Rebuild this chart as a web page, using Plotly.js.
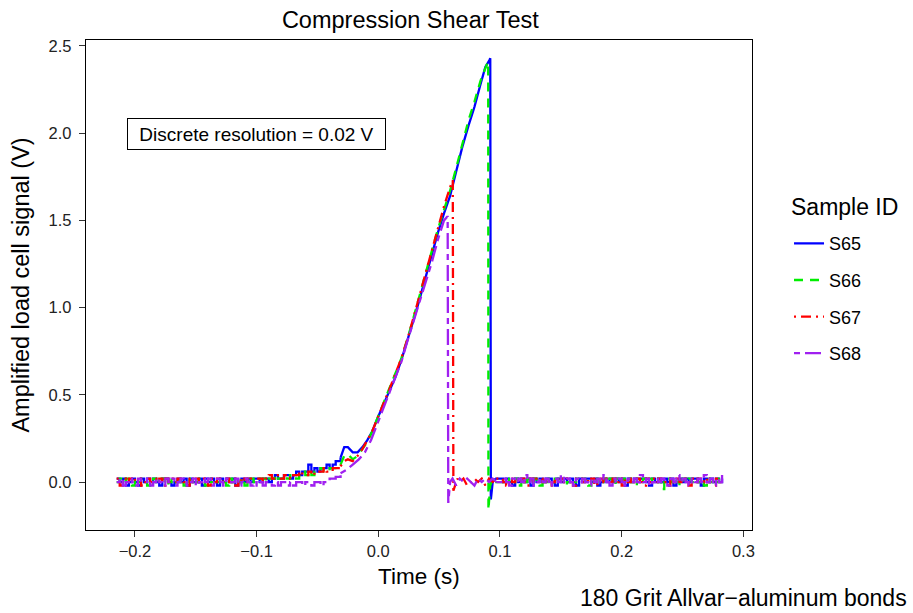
<!DOCTYPE html>
<html>
<head>
<meta charset="utf-8">
<script src="https://cdn.plot.ly/plotly-3.0.1.min.js"></script>
<style>
html,body{margin:0;padding:0;background:#fff;}
#chart{width:913px;height:613px;}
</style>
</head>
<body>
<div id="chart"></div>
<script>
// ---- Data ----
const seriesNames = ["S65", "S66", "S67", "S68"];

// shared pre-load time samples (s)
const tPre = [-0.215,-0.2125,-0.21,-0.2075,-0.205,-0.2025,-0.2,-0.1975,-0.195,-0.1925,-0.19,-0.1875,-0.185,-0.1825,-0.18,-0.1775,-0.175,-0.1725,-0.17,-0.1675,-0.165,-0.1625,-0.16,-0.1575,-0.155,-0.1525,-0.15,-0.1475,-0.145,-0.1425,-0.14,-0.1375,-0.135,-0.1325,-0.13,-0.1275,-0.125,-0.1225,-0.12,-0.1175,-0.115,-0.1125,-0.11,-0.1075,-0.105,-0.1025,-0.1,-0.0975,-0.095,-0.0925,-0.09,-0.0875,-0.085,-0.0825,-0.08,-0.0775,-0.075,-0.0725,-0.07,-0.0675,-0.065,-0.0625,-0.06,-0.0575,-0.055,-0.0525,-0.05,-0.0475,-0.045,-0.0425,-0.04,-0.0375,-0.035];
// shared post-failure time samples (s)
const tPost = [0.1,0.1025,0.105,0.1075,0.11,0.1125,0.115,0.1175,0.12,0.1225,0.125,0.1275,0.13,0.1325,0.135,0.1375,0.14,0.1425,0.145,0.1475,0.15,0.1525,0.155,0.1575,0.16,0.1625,0.165,0.1675,0.17,0.1725,0.175,0.1775,0.18,0.1825,0.185,0.1875,0.19,0.1925,0.195,0.1975,0.2,0.2025,0.205,0.2075,0.21,0.2125,0.215,0.2175,0.22,0.2225,0.225,0.2275,0.23,0.2325,0.235,0.2375,0.24,0.2425,0.245,0.2475,0.25,0.2525,0.255,0.2575,0.26,0.2625,0.265,0.2675,0.27,0.2725,0.275,0.2775,0.28,0.2825];

// S65
const vPre65 = [0.02,0.00,0.02,-0.02,0.00,0.02,0.00,-0.02,0.02,0.00,
  0.02,0.00,0.02,0.00,-0.02,0.02,0.02,0.00,-0.02,0.00,
  0.02,0.00,0.02,-0.02,0.02,0.00,0.00,0.02,-0.02,0.02,
  0.00,0.02,0.00,-0.02,0.02,0.00,0.02,0.00,0.02,-0.02,
  0.00,0.02,0.00,0.02,0.00,0.02,
  0.02,0.00,0.02,0.02,0.00,0.02,0.04,0.02,0.02,0.04,
  0.04,0.02,0.04,0.06,0.04,0.06,0.06,0.10,0.06,0.08,
  0.06,0.08,0.08,0.10,0.08,0.10,0.12];
const tRise65 = [-0.031,-0.028,-0.025,-0.021,-0.017,-0.013,-0.009,-0.005,-0.001,0.004,0.009,0.014,0.019,0.024,0.029,0.034,0.039,0.044,0.049,0.054,0.059,0.064,0.069,0.074,0.079,0.084,0.088,0.0915,0.092,0.0925,0.094,0.096];
const vRise65 = [0.14,0.20,0.20,0.17,0.17,0.20,0.24,0.29,0.36,0.44,0.52,0.60,0.70,0.81,0.93,1.05,1.18,1.31,1.43,1.54,1.64,1.78,1.92,2.04,2.15,2.28,2.38,2.42,2.43,-0.10,0.00,0.02];
const vPost65 = [0.02,0.00,0.02,0.00,-0.02,0.02,0.00,0.02,0.00,0.02,
  -0.02,0.02,0.00,0.02,0.00,0.02,0.02,0.00,-0.02,0.02,
  0.00,0.02,0.00,0.02,0.00,-0.02,0.02,0.00,0.02,0.02,
  0.00,0.02,-0.02,0.00,0.02,0.00,0.02,0.00,0.02,0.00,
  0.02,-0.02,0.02,0.00,0.02,0.00,0.02,0.02,0.00,-0.02,
  0.02,0.00,0.02,0.00,0.02,0.00,0.02,-0.02,0.00,0.02,
  0.00,0.02,0.00,0.02,0.02,0.00,-0.02,0.02,0.00,0.02,
  0.00,0.02,0.00,0.02];

// S66
const vPre66 = [0.00,0.02,0.00,0.02,0.00,-0.02,0.02,0.00,0.02,0.00,
  -0.02,0.00,0.02,0.00,0.02,0.02,-0.02,0.00,0.02,0.00,
  0.00,0.02,-0.02,0.02,0.00,0.02,0.00,0.02,0.00,-0.02,
  0.02,0.00,0.02,0.00,0.02,0.00,-0.02,0.02,0.00,0.02,
  0.00,0.02,-0.02,0.00,0.02,0.00,
  0.00,0.02,0.02,0.00,0.02,0.02,0.04,0.02,0.02,0.04,
  0.02,0.04,0.04,0.02,0.04,0.06,0.04,0.06,0.04,0.06,
  0.06,0.08,0.06,0.06,0.08,0.08,0.08];
const tRise66 = [-0.031,-0.028,-0.025,-0.021,-0.017,-0.013,-0.009,-0.005,-0.001,0.004,0.009,0.014,0.019,0.024,0.029,0.034,0.039,0.044,0.049,0.054,0.059,0.064,0.069,0.074,0.079,0.084,0.0895,0.0903,0.0905,0.092,0.094,0.096];
const vRise66 = [0.10,0.15,0.16,0.13,0.15,0.19,0.23,0.29,0.36,0.44,0.53,0.62,0.71,0.82,0.94,1.07,1.20,1.33,1.45,1.56,1.67,1.80,1.94,2.07,2.18,2.30,2.40,2.41,-0.16,-0.02,0.02,0.00];
const vPost66 = [0.00,0.02,0.00,0.02,0.00,0.02,-0.02,0.02,0.00,0.02,
  0.00,0.02,0.00,-0.02,0.02,0.00,0.02,0.00,0.02,0.00,
  0.02,-0.02,0.00,0.02,0.00,0.02,0.00,0.02,0.00,-0.02,
  0.02,0.00,0.02,0.00,0.02,0.00,0.02,-0.02,0.02,0.00,
  0.02,0.00,0.02,0.00,-0.02,0.02,0.00,0.02,0.00,0.02,
  0.00,0.02,0.00,-0.04,0.00,0.02,0.00,0.02,0.00,-0.02,
  0.02,0.00,0.02,0.00,0.02,0.00,0.02,-0.02,0.02,0.00,
  0.02,0.00,0.02,0.00];

// S67
const vPre67 = [0.02,-0.02,0.02,0.00,0.02,0.00,0.02,0.02,-0.02,0.00,
  0.02,0.00,0.02,0.00,0.02,-0.02,0.02,0.00,0.02,0.00,
  0.02,0.02,0.00,-0.02,0.02,0.00,0.02,0.00,0.02,0.00,
  -0.02,0.02,0.00,0.02,0.00,0.02,0.02,0.00,0.02,-0.02,
  0.02,0.00,0.02,0.00,0.02,0.02,
  0.02,0.02,0.00,0.02,0.04,0.02,0.02,0.04,0.02,0.04,
  0.04,0.02,0.04,0.04,0.06,0.04,0.04,0.06,0.04,0.06,
  0.06,0.06,0.08,0.06,0.06,0.08,0.08];
const tRise67 = [-0.031,-0.028,-0.025,-0.021,-0.017,-0.013,-0.009,-0.005,-0.001,0.004,0.009,0.014,0.019,0.024,0.029,0.034,0.039,0.044,0.049,0.054,0.059,0.0612,0.0617,0.063,0.065,0.067,0.07,0.073,0.076,0.079,0.082,0.085,0.088,0.091,0.094,0.097];
const vRise67 = [0.09,0.12,0.13,0.12,0.15,0.19,0.24,0.29,0.36,0.44,0.53,0.62,0.71,0.82,0.94,1.07,1.20,1.33,1.46,1.58,1.69,1.73,-0.05,-0.02,0.02,0.00,0.02,-0.02,0.00,0.02,0.00,0.02,-0.02,0.02,0.00,0.02];
const vPost67 = [0.02,0.00,-0.02,0.02,0.00,0.02,0.00,0.02,0.00,-0.02,
  0.02,0.00,0.02,0.02,0.00,0.02,-0.02,0.00,0.02,0.00,
  0.02,0.00,0.02,0.00,-0.02,0.02,0.02,0.00,0.02,0.00,
  0.02,-0.02,0.00,0.02,0.00,0.02,0.00,0.02,0.00,0.02,
  -0.02,0.02,0.00,0.02,0.00,0.02,0.00,-0.02,0.02,0.00,
  0.02,0.00,0.02,0.02,0.00,-0.02,0.02,0.00,0.02,0.00,
  0.02,0.00,-0.02,0.02,0.00,0.02,0.00,0.02,0.00,0.02,
  -0.02,0.02,0.00,0.02];

// S68
const vPre68 = [0.00,0.02,-0.02,0.00,0.02,0.00,-0.02,0.02,0.00,0.00,
  0.02,-0.02,0.00,0.02,0.00,-0.02,0.02,0.00,0.02,-0.02,
  0.00,0.02,0.00,-0.02,0.00,0.02,-0.02,0.00,0.02,0.00,
  0.02,-0.02,0.00,0.02,0.00,-0.02,0.02,0.00,0.00,0.02,
  -0.02,0.00,0.02,0.00,-0.02,0.00,
  -0.02,0.00,-0.02,0.00,0.00,-0.02,0.00,-0.02,0.00,0.00,
  -0.02,0.00,-0.02,0.00,0.00,-0.02,0.00,0.00,-0.02,0.00,
  0.00,-0.02,0.00,0.00,0.02,0.02,0.03];
const tRise68 = [-0.031,-0.026,-0.021,-0.016,-0.011,-0.006,-0.001,0.004,0.009,0.014,0.019,0.024,0.029,0.034,0.039,0.044,0.049,0.054,0.0565,0.057,0.0575,0.059,0.061,0.064,0.067,0.07,0.073,0.076,0.079,0.082,0.085,0.088,0.091,0.094,0.097];
const vRise68 = [0.05,0.07,0.10,0.13,0.17,0.24,0.33,0.42,0.50,0.59,0.69,0.81,0.92,1.03,1.14,1.26,1.39,1.50,1.52,1.52,-0.12,0.00,0.02,-0.02,0.02,0.00,0.02,0.00,-0.02,0.02,0.00,0.02,0.00,0.02,0.00];
const vPost68 = [0.00,0.02,0.00,-0.02,0.02,0.00,0.02,0.00,0.04,0.00,
  0.02,-0.02,0.00,0.02,0.00,0.02,-0.02,0.00,0.02,0.00,
  0.04,0.00,0.02,0.00,-0.02,0.02,0.00,0.02,0.00,-0.02,
  0.02,0.00,0.02,0.00,0.04,0.00,-0.02,0.02,0.00,0.02,
  0.00,-0.02,0.02,0.00,0.02,0.00,0.04,0.00,0.02,-0.02,
  0.00,0.02,0.00,0.02,0.00,-0.02,0.02,0.00,0.04,0.00,
  0.02,0.00,-0.02,0.02,0.00,0.02,0.00,0.04,0.00,0.02,
  -0.02,0.02,0.00,0.04];

const xTicks = [-0.2, -0.1, 0.0, 0.1, 0.2, 0.3];
const yTicks = [0.0, 0.5, 1.0, 1.5, 2.0, 2.5];

// ---- Styles ----
const FONT = "Liberation Sans, Arial, Helvetica, sans-serif";
const styles = [
  {color: "#0000FF", dash: "solid"},
  {color: "#00EE00", dash: "9px,7px"},
  {color: "#FF0000", dash: "2px,5px,10px,5px"},
  {color: "#A020F0", dash: "6px,5px,16px,5px"}
];
const LW = 2.3;

const rises = [[tRise65, vRise65], [tRise66, vRise66], [tRise67, vRise67], [tRise68, vRise68]];
const pres = [vPre65, vPre66, vPre67, vPre68];
const posts = [vPost65, vPost66, vPost67, vPost68];

const traces = [];
seriesNames.forEach((name, i) => {
  const tr = rises[i][0], vr = rises[i][1];
  const line = {color: styles[i].color, width: LW, dash: styles[i].dash};
  // quantised noisy baseline before loading (stepped, as sampled)
  traces.push({
    type: "scatter", mode: "lines", name: name, legendgroup: name, showlegend: false,
    x: tPre.concat([tr[0]]), y: pres[i].concat([vr[0]]),
    line: Object.assign({shape: "hv"}, line), hoverinfo: "skip"
  });
  // loading ramp and failure drop
  traces.push({
    type: "scatter", mode: "lines", name: name, legendgroup: name, showlegend: true,
    x: tr, y: vr,
    line: Object.assign({shape: "linear"}, line), hoverinfo: "skip"
  });
  // noisy baseline after failure
  traces.push({
    type: "scatter", mode: "lines", name: name, legendgroup: name, showlegend: false,
    x: [tr[tr.length - 1]].concat(tPost), y: [vr[vr.length - 1]].concat(posts[i]),
    line: Object.assign({shape: "hv"}, line), hoverinfo: "skip"
  });
});

const layout = {
  width: 913,
  height: 613,
  paper_bgcolor: "#fff",
  plot_bgcolor: "#fff",
  font: {family: FONT, color: "#000"},
  margin: {l: 86, r: 161, t: 40, b: 83},
  title: {
    text: "Compression Shear Test",
    font: {family: FONT, size: 23.5, color: "#000"},
    x: 0.487, xref: "paper", xanchor: "center",
    y: 0.967, yref: "container", yanchor: "middle"
  },
  xaxis: {
    range: [-0.2402, 0.3071],
    tickvals: xTicks,
    tickformat: ".1f",
    ticks: "outside", ticklen: 6, tickwidth: 1, tickcolor: "#333",
    showline: true, mirror: true, linecolor: "#000", linewidth: 1.3,
    showgrid: false, zeroline: false,
    tickfont: {family: FONT, size: 16.5, color: "#222"}
  },
  yaxis: {
    range: [-0.275, 2.534],
    tickvals: yTicks,
    tickformat: ".1f",
    ticks: "outside", ticklen: 6, tickwidth: 1, tickcolor: "#333",
    showline: true, mirror: true, linecolor: "#000", linewidth: 1.3,
    showgrid: false, zeroline: false,
    ticklabelstandoff: 4,
    tickfont: {family: FONT, size: 16.5, color: "#222"},
    title: {text: "Amplified load cell signal (V)", font: {family: FONT, size: 23.5, color: "#000"}, standoff: 12}
  },
  legend: {
    x: 1.0556, xanchor: "left",
    y: 0.622, yanchor: "top",
    font: {family: FONT, size: 18, color: "#000"},
    traceorder: "grouped",
    tracegroupgap: 10.2,
    bgcolor: "rgba(0,0,0,0)"
  },
  annotations: [
    {
      text: "Time (s)",
      xref: "paper", yref: "paper", x: 0.5, y: -0.0939,
      xanchor: "center", yanchor: "middle", showarrow: false, borderpad: 0,
      font: {family: FONT, size: 22.5, color: "#000"}
    },
    {
      text: "Sample ID",
      xref: "paper", yref: "paper", x: 1.0556, y: 0.659,
      xanchor: "left", yanchor: "middle", showarrow: false,
      font: {family: FONT, size: 23, color: "#000"}
    },
    {
      text: "Discrete resolution = 0.02 V",
      xref: "x", yref: "y", x: -0.100, y: 1.995,
      showarrow: false,
      font: {family: FONT, size: 19, color: "#000"},
      bordercolor: "#000", borderwidth: 1, borderpad: 4,
      width: 249, height: 22,
      bgcolor: "#fff"
    },
    {
      text: "180 Grit Allvar\u2212aluminum bonds",
      xref: "paper", yref: "paper", x: 1.234, y: -0.1388,
      xanchor: "right", yanchor: "middle",
      showarrow: false, borderpad: 0,
      font: {family: FONT, size: 23, color: "#000"}
    }
  ]
};

Plotly.newPlot("chart", traces, layout, {displayModeBar: false, staticPlot: true});
</script>
</body>
</html>
